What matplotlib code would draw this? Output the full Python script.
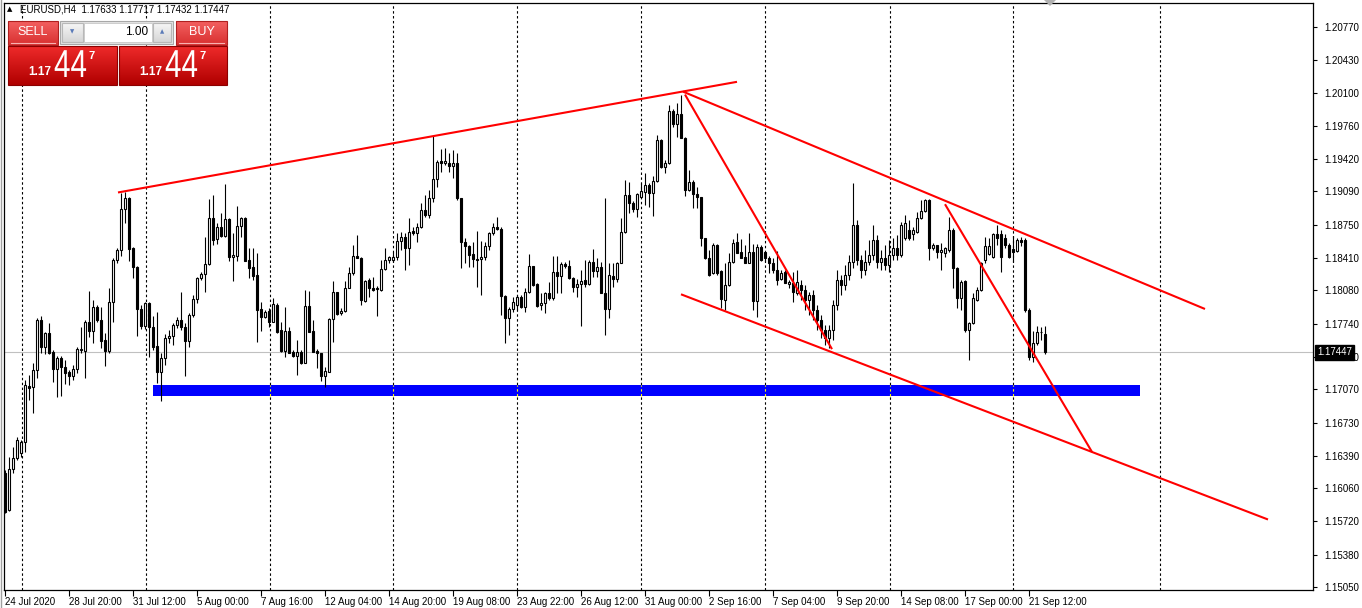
import numpy as np
import matplotlib.pyplot as plt
import matplotlib.colors as mcolors
import matplotlib.transforms as mtransforms
from matplotlib.patches import Rectangle, Polygon, PathPatch
from matplotlib.textpath import TextPath
from matplotlib.font_manager import FontProperties

plt.rcParams['font.family'] = ['Liberation Sans', 'DejaVu Sans']

# EURUSD H4, 24 Jul 2020 - 22 Sep 2020 (bars)
symbol = 'EURUSD,H4'
last_ohlc = ['1.17633', '1.17717', '1.17432', '1.17447']
bid = 1.17447

opens = [
    1.1622, 1.1584, 1.1626, 1.1637, 1.1642, 1.1653, 1.1710, 1.1709, 1.1727, 1.1778,
    1.1750, 1.1764, 1.1745, 1.1728, 1.1739, 1.1730, 1.1725, 1.1721, 1.1728, 1.1747,
    1.1746, 1.1776, 1.1767, 1.1791, 1.1778, 1.1757, 1.1746, 1.1796, 1.1839, 1.1849,
    1.1891, 1.1902, 1.1851, 1.1832, 1.1789, 1.1772, 1.1795, 1.1771, 1.1751, 1.1725,
    1.1739, 1.1759, 1.1761, 1.1773, 1.1778, 1.1771, 1.1756, 1.1783, 1.1799, 1.1821,
    1.1825, 1.1835, 1.1882, 1.1860, 1.1873, 1.1864, 1.1881, 1.1842, 1.1843, 1.1874,
    1.1882, 1.1839, 1.1832, 1.1824, 1.1789, 1.1781, 1.1787, 1.1776, 1.1793, 1.1768,
    1.1746, 1.1767, 1.1745, 1.1741, 1.1745, 1.1734, 1.1792, 1.1767, 1.1746, 1.1744,
    1.1721, 1.1725, 1.1779, 1.1806, 1.1785, 1.1787, 1.1810, 1.1826, 1.1843, 1.1841,
    1.1797, 1.1819, 1.1810, 1.1809, 1.1808, 1.1830, 1.1839, 1.1839, 1.1842, 1.1858,
    1.1863, 1.1851, 1.1869, 1.1867, 1.1873, 1.1890, 1.1885, 1.1902, 1.1922, 1.1940,
    1.1938, 1.1938, 1.1935, 1.1938, 1.1902, 1.1857, 1.1853, 1.1845, 1.1840, 1.1840,
    1.1842, 1.1853, 1.1867, 1.1873, 1.1871, 1.1802, 1.1780, 1.1789, 1.1793, 1.1801,
    1.1791, 1.1806, 1.1833, 1.1815, 1.1793, 1.1795, 1.1805, 1.1800, 1.1827, 1.1823,
    1.1835, 1.1833, 1.1821, 1.1811, 1.1815, 1.1819, 1.1815, 1.1837, 1.1828, 1.1832,
    1.1805, 1.1789, 1.1823, 1.1820, 1.1836, 1.1868, 1.1905, 1.1897, 1.1891, 1.1903,
    1.1908, 1.1916, 1.1907, 1.1920, 1.1962, 1.1934, 1.1938, 1.1991, 1.1978, 1.1988,
    1.1964, 1.1911, 1.1919, 1.1906, 1.1903, 1.1861, 1.1841, 1.1826, 1.1854, 1.1828,
    1.1798, 1.1814, 1.1837, 1.1857, 1.1847, 1.1842, 1.1836, 1.1847, 1.1797, 1.1852,
    1.1847, 1.1841, 1.1836, 1.1829, 1.1820, 1.1827, 1.1815, 1.1816, 1.1805, 1.1814,
    1.1808, 1.1798, 1.1803, 1.1788, 1.1778, 1.1768, 1.1759, 1.1768, 1.1793, 1.1819,
    1.1814, 1.1824, 1.1837, 1.1875, 1.1839, 1.1829, 1.1837, 1.1844, 1.1859, 1.1837,
    1.1841, 1.1834, 1.1844, 1.1851, 1.1844, 1.1862, 1.1870, 1.1866, 1.1868, 1.1882,
    1.1889, 1.1900, 1.1851, 1.1854, 1.1847, 1.1846, 1.1849, 1.1870, 1.1831, 1.1800,
    1.1818, 1.1768, 1.1775, 1.1798, 1.1808, 1.1839, 1.1845, 1.1842, 1.1866, 1.1866,
    1.1861, 1.1854, 1.1850, 1.1848, 1.1859, 1.1859, 1.1788, 1.1740, 1.1754, 1.1766,
    1.1763,
]
highs = [
    1.1625, 1.1638, 1.1648, 1.1658, 1.1655, 1.1716, 1.1722, 1.1734, 1.1780, 1.1782,
    1.1766, 1.1775, 1.1747, 1.1741, 1.1741, 1.1737, 1.1727, 1.1732, 1.1750, 1.1771,
    1.1778, 1.1807, 1.1798, 1.1793, 1.1791, 1.1764, 1.1810, 1.1841, 1.1851, 1.1907,
    1.1908, 1.1903, 1.1852, 1.1833, 1.1793, 1.1796, 1.1796, 1.1782, 1.1786, 1.1744,
    1.1763, 1.1768, 1.1775, 1.1781, 1.1806, 1.1775, 1.1785, 1.1803, 1.1822, 1.1827,
    1.1863, 1.1901, 1.1905, 1.1877, 1.1887, 1.1917, 1.1882, 1.1867, 1.1894, 1.1883,
    1.1883, 1.1851, 1.1851, 1.1846, 1.1796, 1.1788, 1.1790, 1.1800, 1.1795, 1.1776,
    1.1791, 1.1771, 1.1747, 1.1757, 1.1747, 1.1808, 1.1807, 1.1778, 1.1748, 1.1744,
    1.1730, 1.1780, 1.1818, 1.1806, 1.1790, 1.1818, 1.1832, 1.1854, 1.1865, 1.1842,
    1.1819, 1.1821, 1.1822, 1.1812, 1.1839, 1.1851, 1.1843, 1.1847, 1.1867, 1.1868,
    1.1867, 1.1882, 1.1873, 1.1877, 1.1897, 1.1905, 1.1911, 1.1966, 1.1941, 1.1952,
    1.1953, 1.1948, 1.1951, 1.1948, 1.1902, 1.1862, 1.1854, 1.1857, 1.1869, 1.1858,
    1.1857, 1.1868, 1.1877, 1.1883, 1.1873, 1.1803, 1.1791, 1.1801, 1.1803, 1.1803,
    1.1810, 1.1845, 1.1833, 1.1816, 1.1805, 1.1806, 1.1817, 1.1843, 1.1843, 1.1837,
    1.1837, 1.1839, 1.1822, 1.1820, 1.1829, 1.1839, 1.1839, 1.1850, 1.1841, 1.1837,
    1.1902, 1.1836, 1.1836, 1.1837, 1.1882, 1.1921, 1.1919, 1.1899, 1.1907, 1.1918,
    1.1928, 1.1918, 1.1925, 1.1967, 1.1963, 1.1941, 1.1997, 1.1993, 1.1999, 1.2008,
    1.1965, 1.1931, 1.1921, 1.1914, 1.1903, 1.1862, 1.1849, 1.1856, 1.1855, 1.1829,
    1.1836, 1.1846, 1.1860, 1.1867, 1.1860, 1.1854, 1.1867, 1.1855, 1.1855, 1.1854,
    1.1847, 1.1843, 1.1841, 1.1848, 1.1829, 1.1829, 1.1819, 1.1827, 1.1829, 1.1819,
    1.1814, 1.1806, 1.1808, 1.1793, 1.1783, 1.1773, 1.1773, 1.1798, 1.1829, 1.1824,
    1.1834, 1.1844, 1.1918, 1.1880, 1.1844, 1.1849, 1.1859, 1.1875, 1.1865, 1.1849,
    1.1854, 1.1859, 1.1861, 1.1865, 1.1878, 1.1885, 1.1880, 1.1873, 1.1888, 1.1900,
    1.1901, 1.1901, 1.1856, 1.1854, 1.1856, 1.1852, 1.1883, 1.1872, 1.1832, 1.1819,
    1.1819, 1.1776, 1.1805, 1.1811, 1.1837, 1.1863, 1.1861, 1.1867, 1.1875, 1.1870,
    1.1866, 1.1856, 1.1864, 1.1861, 1.1863, 1.1862, 1.1790, 1.1767, 1.1772, 1.1771,
    1.1772,
]
lows = [
    1.1581, 1.1583, 1.1622, 1.1635, 1.1638, 1.1643, 1.1696, 1.1683, 1.1719, 1.1744,
    1.1743, 1.1743, 1.1714, 1.1699, 1.1700, 1.1712, 1.1711, 1.1716, 1.1724, 1.1744,
    1.1719, 1.1760, 1.1754, 1.1776, 1.1749, 1.1731, 1.1744, 1.1776, 1.1836, 1.1843,
    1.1877, 1.1838, 1.1821, 1.1761, 1.1769, 1.1769, 1.1740, 1.1747, 1.1713, 1.1695,
    1.1732, 1.1754, 1.1752, 1.1770, 1.1768, 1.1721, 1.1750, 1.1781, 1.1795, 1.1819,
    1.1806, 1.1834, 1.1854, 1.1855, 1.1863, 1.1863, 1.1838, 1.1818, 1.1838, 1.1863,
    1.1838, 1.1821, 1.1819, 1.1755, 1.1767, 1.1780, 1.1771, 1.1776, 1.1764, 1.1745,
    1.1740, 1.1744, 1.1740, 1.1722, 1.1733, 1.1734, 1.1765, 1.1745, 1.1729, 1.1715,
    1.1709, 1.1725, 1.1755, 1.1783, 1.1783, 1.1786, 1.1810, 1.1824, 1.1841, 1.1793,
    1.1796, 1.1801, 1.1807, 1.1782, 1.1807, 1.1829, 1.1836, 1.1837, 1.1839, 1.1849,
    1.1829, 1.1834, 1.1865, 1.1857, 1.1872, 1.1883, 1.1882, 1.1898, 1.1914, 1.1929,
    1.1936, 1.1929, 1.1923, 1.1900, 1.1831, 1.1836, 1.1832, 1.1832, 1.1811, 1.1803,
    1.1839, 1.1849, 1.1865, 1.1870, 1.1783, 1.1754, 1.1762, 1.1786, 1.1788, 1.1790,
    1.1786, 1.1805, 1.1812, 1.1791, 1.1788, 1.1785, 1.1798, 1.1798, 1.1805, 1.1805,
    1.1831, 1.1820, 1.1806, 1.1801, 1.1772, 1.1811, 1.1814, 1.1822, 1.1822, 1.1805,
    1.1762, 1.1780, 1.1811, 1.1817, 1.1836, 1.1867, 1.1887, 1.1888, 1.1883, 1.1902,
    1.1895, 1.1893, 1.1884, 1.1919, 1.1933, 1.1928, 1.1937, 1.1975, 1.1965, 1.1964,
    1.1904, 1.1909, 1.1892, 1.1892, 1.1853, 1.1840, 1.1823, 1.1825, 1.1824, 1.1790,
    1.1788, 1.1812, 1.1836, 1.1846, 1.1841, 1.1836, 1.1836, 1.1788, 1.1781, 1.1838,
    1.1837, 1.1826, 1.1826, 1.1814, 1.1819, 1.1816, 1.1810, 1.1796, 1.1803, 1.1798,
    1.1788, 1.1783, 1.1778, 1.1768, 1.1759, 1.1752, 1.1749, 1.1757, 1.1788, 1.1803,
    1.1808, 1.1819, 1.1831, 1.1834, 1.1821, 1.1824, 1.1834, 1.1839, 1.1831, 1.1829,
    1.1829, 1.1827, 1.1839, 1.1839, 1.1842, 1.1859, 1.1859, 1.1859, 1.1867, 1.1881,
    1.1888, 1.1839, 1.1849, 1.1841, 1.1829, 1.1842, 1.1847, 1.1810, 1.1790, 1.1788,
    1.1766, 1.1737, 1.1774, 1.1797, 1.1807, 1.1836, 1.1844, 1.1841, 1.1854, 1.1827,
    1.1851, 1.1841, 1.1837, 1.1847, 1.1853, 1.1786, 1.1737, 1.1735, 1.1752, 1.1757,
    1.1743,
]
closes = [
    1.1582, 1.1626, 1.1637, 1.1655, 1.1653, 1.1711, 1.1708, 1.1727, 1.1778, 1.1750,
    1.1764, 1.1744, 1.1728, 1.1739, 1.1730, 1.1724, 1.1721, 1.1728, 1.1748, 1.1748,
    1.1776, 1.1767, 1.1791, 1.1778, 1.1756, 1.1746, 1.1796, 1.1839, 1.1849, 1.1891,
    1.1902, 1.1850, 1.1832, 1.1789, 1.1772, 1.1795, 1.1771, 1.1750, 1.1725, 1.1739,
    1.1759, 1.1761, 1.1773, 1.1778, 1.1771, 1.1756, 1.1783, 1.1799, 1.1821, 1.1825,
    1.1835, 1.1882, 1.1859, 1.1873, 1.1864, 1.1881, 1.1842, 1.1844, 1.1874, 1.1882,
    1.1838, 1.1831, 1.1823, 1.1788, 1.1781, 1.1786, 1.1776, 1.1794, 1.1766, 1.1746,
    1.1767, 1.1744, 1.1741, 1.1745, 1.1734, 1.1792, 1.1766, 1.1745, 1.1744, 1.1721,
    1.1726, 1.1779, 1.1806, 1.1784, 1.1787, 1.1810, 1.1826, 1.1843, 1.1841, 1.1798,
    1.1818, 1.1810, 1.1808, 1.1810, 1.1830, 1.1839, 1.1842, 1.1842, 1.1858, 1.1863,
    1.1851, 1.1868, 1.1867, 1.1873, 1.1890, 1.1885, 1.1902, 1.1922, 1.1939, 1.1938,
    1.1940, 1.1935, 1.1938, 1.1902, 1.1857, 1.1853, 1.1844, 1.1840, 1.1839, 1.1842,
    1.1853, 1.1867, 1.1873, 1.1871, 1.1802, 1.1780, 1.1789, 1.1796, 1.1801, 1.1791,
    1.1806, 1.1833, 1.1814, 1.1792, 1.1795, 1.1805, 1.1800, 1.1827, 1.1823, 1.1835,
    1.1833, 1.1821, 1.1811, 1.1815, 1.1818, 1.1815, 1.1837, 1.1828, 1.1832, 1.1805,
    1.1789, 1.1824, 1.1820, 1.1836, 1.1868, 1.1905, 1.1897, 1.1891, 1.1906, 1.1910,
    1.1916, 1.1907, 1.1920, 1.1962, 1.1934, 1.1938, 1.1991, 1.1978, 1.1988, 1.1964,
    1.1911, 1.1919, 1.1906, 1.1903, 1.1861, 1.1841, 1.1824, 1.1854, 1.1826, 1.1799,
    1.1814, 1.1837, 1.1856, 1.1846, 1.1841, 1.1836, 1.1847, 1.1797, 1.1852, 1.1839,
    1.1841, 1.1836, 1.1829, 1.1819, 1.1826, 1.1816, 1.1817, 1.1806, 1.1817, 1.1808,
    1.1798, 1.1803, 1.1788, 1.1778, 1.1768, 1.1759, 1.1768, 1.1793, 1.1819, 1.1814,
    1.1824, 1.1837, 1.1875, 1.1839, 1.1829, 1.1837, 1.1844, 1.1859, 1.1837, 1.1841,
    1.1834, 1.1844, 1.1851, 1.1844, 1.1875, 1.1877, 1.1862, 1.1870, 1.1882, 1.1889,
    1.1900, 1.1851, 1.1854, 1.1847, 1.1849, 1.1851, 1.1870, 1.1831, 1.1800, 1.1817,
    1.1768, 1.1775, 1.1800, 1.1808, 1.1836, 1.1853, 1.1853, 1.1866, 1.1861, 1.1842,
    1.1854, 1.1842, 1.1847, 1.1859, 1.1857, 1.1788, 1.1740, 1.1754, 1.1766, 1.1765,
    1.1745,
]

time_labels = ['24 Jul 2020', '28 Jul 20:00', '31 Jul 12:00', '5 Aug 00:00', '7 Aug 16:00',
               '12 Aug 04:00', '14 Aug 20:00', '19 Aug 08:00', '23 Aug 22:00', '26 Aug 12:00',
               '31 Aug 00:00', '2 Sep 16:00', '7 Sep 04:00', '9 Sep 20:00', '14 Sep 08:00',
               '17 Sep 00:00', '21 Sep 12:00']
label_step = 16
sep_bars = [4.25, 35.25, 66.25, 97, 128, 159, 190, 221.25, 252, 288.75]
price_ticks = [1.2077, 1.2043, 1.2010, 1.1976, 1.1942, 1.1909, 1.1875, 1.1841, 1.1808,
               1.1774, 1.1740, 1.1707, 1.1673, 1.1639, 1.1606, 1.1572, 1.1538, 1.1505]

# drawn objects: (bar0, price0, bar1, price1)
trend_lines = [
    (28.25, 1.1908, 183.0, 1.2021),
    (169.5, 1.2011, 300.0, 1.1789),
    (169.0, 1.1804, 315.75, 1.1574),
    (170.0, 1.2008, 206.75, 1.1748),
    (235.0, 1.1896, 271.75, 1.1643),
]
zone_bars = (37.0, 283.75)
zone_prices = (1.1700, 1.17113)

assert len(opens) == len(highs) == len(lows) == len(closes)

W, H = 1362, 608
fig = plt.figure(figsize=(W / 100, H / 100), dpi=100)
fig.patch.set_facecolor('white')
ax = fig.add_axes([4 / W, 1 - 590 / H, (1313 - 4) / W, (590 - 3) / H])
ax.set_xlim(-0.25, -0.25 + (1313 - 4) / 4)
ax.set_ylim(1.15020, 1.21015)

o = np.array(opens)
h = np.array(highs)
l = np.array(lows)
c = np.array(closes)
x = np.arange(len(o))

# background objects
ax.axhline(bid, color='#C0C0C0', lw=0.8, zorder=1)
for b in sep_bars:
    ax.axvline(b, color='black', lw=0.8, ls=(0, (2.2, 2.2)), zorder=1.5)
ax.add_patch(Rectangle((zone_bars[0], zone_prices[0]), zone_bars[1] - zone_bars[0],
                       zone_prices[1] - zone_prices[0], color='#0000FF', lw=0, zorder=2))
for b in sep_bars:
    if zone_bars[0] < b < zone_bars[1]:
        ax.plot([b, b], zone_prices, color='#FFFF00', lw=0.8, ls=(0, (2.2, 2.2)), zorder=2.2)

# candles
ax.vlines(x, l, h, color='black', lw=0.8, zorder=3)
up = c >= o
body = np.maximum(np.abs(c - o), 0.00002)
ax.bar(x[up], body[up], bottom=np.minimum(o, c)[up], width=0.5, color='white',
       edgecolor='black', linewidth=0.8, zorder=3.5)
ax.bar(x[~up], body[~up], bottom=np.minimum(o, c)[~up], width=0.5, color='black',
       edgecolor='black', linewidth=0.8, zorder=3.5)

for x0, p0, x1, p1 in trend_lines:
    ax.plot([x0, x1], [p0, p1], color='#FF0000', lw=1.5, zorder=4, solid_capstyle='butt')

# axes look
for s in ax.spines.values():
    s.set_color('black')
    s.set_linewidth(0.9)
ax.yaxis.tick_right()
ax.set_yticks(price_ticks)
ax.set_yticklabels([f'{p:.5f}' for p in price_ticks])
ax.tick_params(axis='y', direction='out', length=3, width=0.8, pad=5, labelsize=7, colors='black')
ax.set_xticks(np.arange(len(time_labels)) * label_step)
ax.set_xticklabels(time_labels)
ax.tick_params(axis='x', direction='out', length=4, width=0.8, pad=1, labelsize=7)
for lbl in ax.get_xticklabels():
    lbl.set_ha('left')

ax.annotate(f'{bid:.5f}', xy=(1, bid), xycoords=('axes fraction', 'data'),
            xytext=(4, 0), textcoords='offset pixels', ha='left', va='center',
            color='white', fontsize=7, zorder=10,
            bbox=dict(boxstyle='square,pad=0.25', fc='black', ec='black'))

# overlay in pixel units for the header and trade panel
ov = fig.add_axes([0, 0, 1, 1], zorder=5)
ov.set_xlim(0, W)
ov.set_ylim(H, 0)
ov.axis('off')
ov.patch.set_alpha(0)


def grad_box(x0, y0, x1, y1, c_top, c_bot, edge=None):
    t = np.linspace(0, 1, 40)[:, None, None]
    top = np.array(mcolors.to_rgb(c_top))[None, None, :]
    bot = np.array(mcolors.to_rgb(c_bot))[None, None, :]
    img = (1 - t) * top + t * bot
    ov.imshow(img, extent=(x0, x1, y1, y0), origin='upper', aspect='auto',
              interpolation='bilinear', zorder=1)
    if edge:
        ov.add_patch(Rectangle((x0, y0), x1 - x0, y1 - y0, fill=False, ec=edge, lw=0.8, zorder=2))


ov.plot([1, 1], [0, H], color='#A0A0A0', lw=1)
ov.text(10, 9, '\u25b2', fontsize=5, ha='center', va='center', family='DejaVu Sans')
ov.text(20, 9, symbol + '  ' + ' '.join(last_ohlc), fontsize=7, ha='left', va='center')
ov.add_patch(Polygon([(1044, 0), (1056, 0), (1050, 6)], closed=True, color='#B0B0B0', lw=0))

# SELL / BUY buttons
for bx0, bx1, txt in [(8, 58, 'SELL'), (176, 227, 'BUY')]:
    grad_box(bx0, 21, bx1, 45, '#F36060', '#D83030', edge='#B02020')
    ov.plot([bx0 + 3, bx1 - 3], [43, 43], color='#F8B0B0', lw=0.8, zorder=3)
    ov.text((bx0 + bx1) / 2, 32, txt, color='white', fontsize=9, ha='center', va='center', zorder=3)

# lot spinner
ov.add_patch(Rectangle((60, 21), 113, 23, fc='#E4E4E4', ec='#A8A8A8', lw=0.8, zorder=1))
grad_box(62, 23, 83, 42, '#F6F6F6', '#D6D6D6', edge='#B8B8B8')
grad_box(153, 23, 171, 42, '#F6F6F6', '#D6D6D6', edge='#B8B8B8')
ov.add_patch(Rectangle((84, 23), 68, 19, fc='white', ec='#C8C8C8', lw=0.6, zorder=1))
ov.text(72.5, 32, '\u25bc', fontsize=4, color='#5A7AB8', ha='center', va='center', family='DejaVu Sans', zorder=3)
ov.text(162, 32, '\u25b2', fontsize=4, color='#5A7AB8', ha='center', va='center', family='DejaVu Sans', zorder=3)
ov.text(148, 32, '1.00', fontsize=8.5, ha='right', va='center', zorder=3)

# price boxes: big pip digits are tall and narrow, so draw them as a squeezed path
big_path = TextPath((0, 0), '44', size=39, prop=FontProperties(family='Liberation Sans'))
for bx0, bx1 in [(8, 117), (119, 227)]:
    grad_box(bx0, 46, bx1, 85, '#EE2A2A', '#B00000', edge='#8C0000')
    ov.text(bx0 + 20, 72, '1.17', color='white', fontsize=8.5, fontweight='bold',
            ha='left', va='center', zorder=3)
    tr = mtransforms.Affine2D().scale(0.76, -1.0).translate(bx0 + 46, 77) + ov.transData
    ov.add_patch(PathPatch(big_path, fc='white', lw=0, transform=tr, zorder=3))
    ov.text(bx0 + 84, 56, '7', color='white', fontsize=8, fontweight='bold',
            ha='center', va='center', zorder=3)

fig.savefig('out.png', dpi=100, facecolor='white')
